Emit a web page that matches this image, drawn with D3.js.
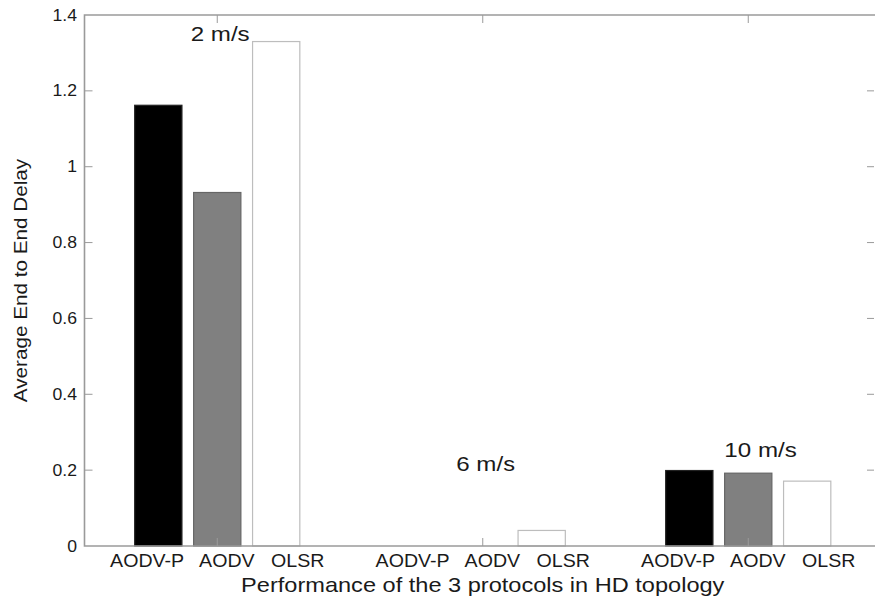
<!DOCTYPE html>
<html>
<head>
<meta charset="utf-8">
<script src="https://cdn.jsdelivr.net/npm/d3@7"></script>
<style>
  body { margin: 0; background: #fff; }
  text { font-family: "Liberation Sans", Arial, sans-serif; fill: #1a1a1a; }
</style>
</head>
<body>
<script>
// chart size
var w = 875, h = 599;

// data
var speeds = ["2 m/s", "6 m/s", "10 m/s"];
var protocols = ["AODV-P", "AODV", "OLSR"];
var aodvp = [1.162, 0, 0.199];
var aodv  = [0.932, 0, 0.192];
var olsr  = [1.33, 0.041, 0.171];
var yTicks = [0, 0.2, 0.4, 0.6, 0.8, 1, 1.2, 1.4];
// where the speed notes sit, in data units
var noteX = [0.9, 1.9, 2.91];
var noteY = [1.35, 0.218, 0.254];

var series = [
    {name: "AODV-P", values: aodvp, fill: "#000000", edge: "#222222"},
    {name: "AODV",   values: aodv,  fill: "#808080", edge: "#666666"},
    {name: "OLSR",   values: olsr,  fill: "#ffffff", edge: "#bdbdbd"}
];

var stretch = 1.15; // the source text is drawn a bit wide

window.onload = function(){

    var svg = d3.select("body")
        .append("svg")
        .attr("width", w)
        .attr("height", h);

    var x = d3.scaleLinear().domain([0.5, 3.5]).range([84.5, 881]);
    var y = d3.scaleLinear().domain([0, 1.4]).range([546, 15]);

    var unit = x(1) - x(0);
    var step = 0.222, barW = 0.178;

    //bars, one group per series
    series.forEach(function(s, k){
        svg.selectAll(".bar" + k)
            .data(s.values)
            .enter()
            .append("rect")
            .attr("class", "bar" + k)
            .attr("x", function(d, i){ return x(i + 1 + (k - 1) * step) - barW * unit / 2; })
            .attr("width", barW * unit)
            .attr("y", function(d){ return y(d); })
            .attr("height", function(d){ return y(0) - y(d); })
            .style("fill", s.fill)
            .style("stroke", s.edge)
            .style("stroke-width", 1.2);
    });

    //axis box (left, top, bottom; right edge runs off the picture)
    var axisColor = "#9a9a9a";
    svg.append("path")
        .attr("d", "M" + x(3.5) + "," + y(1.4) + "H" + x(0.5) + "V" + y(0) + "H" + x(3.5))
        .style("fill", "none")
        .style("stroke", axisColor)
        .style("stroke-width", 1.6);

    //inward y ticks on both sides
    svg.selectAll(".ytickL")
        .data(yTicks.slice(1, -1))
        .enter()
        .append("line")
        .attr("x1", x(0.5)).attr("x2", x(0.5) + 8)
        .attr("y1", function(d){ return y(d); })
        .attr("y2", function(d){ return y(d); })
        .style("stroke", axisColor);
    svg.selectAll(".ytickR")
        .data(yTicks.slice(1, -1))
        .enter()
        .append("line")
        .attr("x1", 874).attr("x2", 867)
        .attr("y1", function(d){ return y(d); })
        .attr("y2", function(d){ return y(d); })
        .style("stroke", axisColor);

    //inward x ticks top and bottom
    [1, 2, 3].forEach(function(c){
        svg.append("line")
            .attr("x1", x(c)).attr("x2", x(c))
            .attr("y1", y(0)).attr("y2", y(0) - 8)
            .style("stroke", axisColor);
        svg.append("line")
            .attr("x1", x(c)).attr("x2", x(c))
            .attr("y1", y(1.4)).attr("y2", y(1.4) + 8)
            .style("stroke", axisColor);
    });

    //y tick labels
    svg.selectAll(".ylab")
        .data(yTicks)
        .enter()
        .append("text")
        .attr("class", "ylab")
        .attr("text-anchor", "end")
        .attr("dy", "0.35em")
        .style("font-size", "16px")
        .attr("transform", function(d){
            return "translate(77," + y(d) + ") scale(1.1,1)";
        })
        .text(function(d){ return d; });

    //protocol labels: one spaced string centred on each group tick
    svg.selectAll(".clab")
        .data([1, 2, 3])
        .enter()
        .append("text")
        .attr("class", "clab")
        .attr("text-anchor", "middle")
        .style("font-size", "18px")
        .style("white-space", "pre")
        .attr("transform", function(d){
            return "translate(" + x(d) + ",567) scale(1.09,1)";
        })
        .text(protocols.join("   "));

    //speed notes
    svg.selectAll(".note")
        .data(speeds)
        .enter()
        .append("text")
        .attr("class", "note")
        .attr("dy", "0.35em")
        .style("font-size", "21px")
        .attr("transform", function(d, i){
            return "translate(" + x(noteX[i]) + "," + y(noteY[i]) + ") scale(" + stretch + ",1)";
        })
        .text(function(d){ return d; });

    //axis titles
    svg.append("text")
        .attr("text-anchor", "middle")
        .style("font-size", "20.5px")
        .attr("transform", "translate(" + x(2) + ",592) scale(" + stretch + ",1)")
        .text("Performance of the 3 protocols in HD topology");

    svg.append("text")
        .attr("text-anchor", "middle")
        .style("font-size", "18px")
        .attr("transform", "translate(27," + (y(0) + y(1.4)) / 2 + ") rotate(-90) scale(" + stretch + ",1)")
        .text("Average End to End Delay");
};
</script>
</body>
</html>
